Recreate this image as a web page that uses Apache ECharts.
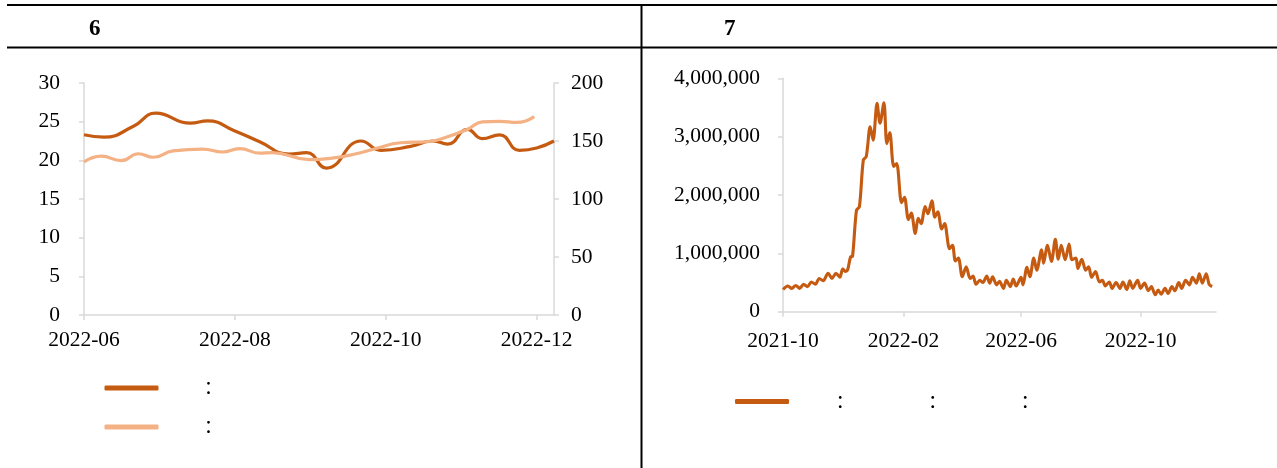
<!DOCTYPE html>
<html><head><meta charset="utf-8">
<script src="https://cdn.jsdelivr.net/npm/echarts@6/dist/echarts.min.js"></script>
<style>html,body{margin:0;padding:0;background:#fff}#c{width:1277px;height:468px}</style>
</head><body><div id="c"></div><script>
// ---------- Chart 6 data ----------
const leftTicks = ['2022-06-01','2022-08-01','2022-10-01','2022-12-01'];
const darkDates = ['2022-06-01','2022-06-09','2022-06-21','2022-06-30','2022-07-14','2022-07-21','2022-08-01','2022-08-11','2022-08-23','2022-08-30','2022-09-07','2022-09-21','2022-09-29','2022-10-11','2022-10-20','2022-10-26','2022-11-03','2022-11-09','2022-11-16','2022-11-24','2022-12-01','2022-12-08'];
const darkValues = [23.3,23.0,24.4,26.1,24.8,25.1,23.8,22.4,20.8,21.0,19.0,22.5,21.3,21.8,22.5,22.1,24.0,22.8,23.3,21.3,21.6,22.5];
const lightDates = ['2022-06-01','2022-06-08','2022-06-16','2022-06-23','2022-06-29','2022-07-07','2022-07-19','2022-07-27','2022-08-03','2022-08-11','2022-08-16','2022-08-31','2022-09-10','2022-09-19','2022-09-27','2022-10-07','2022-10-18','2022-10-23','2022-11-03','2022-11-09','2022-11-16','2022-11-23','2022-11-30'];
const lightValues = [132,137,133,139,136,141.5,143,140.5,143.5,139.5,140,134,135.5,139,143.5,148.5,149.5,151.5,160,166.5,167,166,171];
const leftLegendText = ['\u3000\u3000\uFF1A','\u3000\u3000\uFF1A'];

// ---------- Chart 7 data ----------
const rightTicks = ['2021-10-01','2022-02-01','2022-06-01','2022-10-01'];
const rightDates = [
'2021-10-01','2021-10-06','2021-10-10','2021-10-14','2021-10-18','2021-10-22','2021-10-26','2021-10-30',
'2021-11-03','2021-11-07','2021-11-11','2021-11-16','2021-11-20','2021-11-24','2021-11-28',
'2021-12-01','2021-12-04','2021-12-06','2021-12-09','2021-12-11','2021-12-15','2021-12-18','2021-12-22','2021-12-25','2021-12-29',
'2022-01-01','2022-01-05','2022-01-08','2022-01-12','2022-01-15','2022-01-18','2022-01-22','2022-01-25','2022-01-30',
'2022-02-02','2022-02-06','2022-02-09','2022-02-13','2022-02-16','2022-02-19','2022-02-23','2022-02-26',
'2022-03-02','2022-03-05','2022-03-08','2022-03-12','2022-03-15','2022-03-20','2022-03-23','2022-03-26','2022-03-29',
'2022-04-02','2022-04-06','2022-04-10','2022-04-13','2022-04-16','2022-04-20','2022-04-23','2022-04-27','2022-04-30',
'2022-05-03','2022-05-07','2022-05-10','2022-05-14','2022-05-17','2022-05-21','2022-05-24','2022-05-27',
'2022-06-01','2022-06-03','2022-06-07','2022-06-10','2022-06-14','2022-06-17','2022-06-22','2022-06-24','2022-06-28',
'2022-07-02','2022-07-06','2022-07-09','2022-07-12','2022-07-16','2022-07-20','2022-07-23','2022-07-27','2022-07-29',
'2022-08-02','2022-08-06','2022-08-09','2022-08-12','2022-08-16','2022-08-20','2022-08-23','2022-08-26','2022-08-30',
'2022-09-02','2022-09-06','2022-09-10','2022-09-13','2022-09-17','2022-09-20','2022-09-23','2022-09-28',
'2022-10-01','2022-10-05','2022-10-09','2022-10-12','2022-10-16','2022-10-19','2022-10-22','2022-10-26','2022-10-29',
'2022-11-02','2022-11-05','2022-11-09','2022-11-12','2022-11-16','2022-11-20','2022-11-23','2022-11-27','2022-11-30',
'2022-12-03','2022-12-07','2022-12-10','2022-12-13'];
const rightValues = [
380000,440000,400000,450000,400000,470000,430000,510000,
470000,570000,530000,660000,570000,660000,590000,
730000,690000,720000,940000,950000,1740000,1800000,2600000,2660000,3170000,
2940000,3570000,3230000,3580000,2880000,3070000,2490000,2540000,1870000,
1960000,1580000,1690000,1340000,1600000,1510000,1800000,1680000,
1900000,1620000,1710000,1420000,1510000,1080000,1140000,870000,920000,
600000,770000,570000,610000,470000,540000,500000,610000,490000,
600000,460000,520000,400000,540000,430000,560000,440000,
590000,460000,760000,600000,920000,710000,1060000,830000,1140000,
860000,1240000,900000,1140000,890000,1160000,890000,920000,740000,
900000,710000,770000,590000,690000,510000,540000,440000,510000,
400000,500000,400000,510000,380000,530000,400000,540000,
400000,490000,360000,430000,290000,370000,300000,400000,310000,
430000,360000,500000,400000,540000,460000,590000,490000,650000,
490000,650000,470000,430000];
const rightLegendText = ['\u3000\u3000\uFF1A\u3000\u3000\u3000\u3000\uFF1A\u3000\u3000\u3000\u3000\uFF1A'];

const DARK = '#C55A11', LIGHT = '#F4B183', AXIS = '#D9D9D9';
const FONT = 'Liberation Serif';
const T = s => echarts.number.parseDate(s).getTime();
const pair = (d, v) => d.map((x, i) => [T(x), v[i]]);
const monthFmt = v => echarts.time.format(v, '{yyyy}-{MM}', false);

const chart = echarts.init(document.getElementById('c'), null, {renderer: 'canvas'});

const lbl = (extra) => Object.assign({color: '#000', fontFamily: FONT, fontSize: 21.5}, extra);
const axisLine = {show: true, lineStyle: {color: AXIS, width: 1.5}};
const axisTick = (extra) => Object.assign({show: true, length: 5, lineStyle: {color: AXIS, width: 1.5}}, extra);

chart.setOption({
  animation: false,
  backgroundColor: '#fff',
  grid: [
    {left: 84, top: 83, width: 470, height: 232},
    {left: 783, top: 78.3, width: 433, height: 233.4}
  ],
  xAxis: [
    {type: 'value', gridIndex: 0, min: T('2022-06-01'), max: T('2022-12-08'),
     axisLine, axisTick: axisTick({customValues: leftTicks.map(T)}),
     splitLine: {show: false},
     axisLabel: lbl({customValues: leftTicks.map(T), formatter: monthFmt, margin: 14})},
    {type: 'value', gridIndex: 1, min: T('2021-10-01'), max: T('2022-12-17'),
     axisLine, axisTick: axisTick({customValues: rightTicks.map(T)}),
     splitLine: {show: false},
     axisLabel: lbl({customValues: rightTicks.map(T), formatter: monthFmt, margin: 19})}
  ],
  yAxis: [
    {type: 'value', gridIndex: 0, min: 0, max: 30, interval: 5, position: 'left',
     axisLine, axisTick: axisTick({}), splitLine: {show: false},
     axisLabel: lbl({margin: 24})},
    {type: 'value', gridIndex: 0, min: 0, max: 200, interval: 50, position: 'right',
     axisLine, axisTick: axisTick({}), splitLine: {show: false},
     axisLabel: lbl({margin: 17})},
    {type: 'value', gridIndex: 1, min: 0, max: 4000000, interval: 1000000,
     axisLine, axisTick: axisTick({}), splitLine: {show: false},
     axisLabel: lbl({margin: 23, formatter: v => v.toLocaleString('en-US')})}
  ],
  legend: [
    {data: ['s6a', 's6b'], orient: 'vertical', left: 104.5, top: 378, padding: 0,
     itemWidth: 54, itemHeight: 5, itemGap: 19, icon: 'roundRect',
     formatter: n => leftLegendText[n === 's6a' ? 0 : 1],
     textStyle: {fontFamily: 'Noto Sans CJK JP', fontSize: 18, lineHeight: 20, color: '#000'}},
    {data: ['s7'], orient: 'horizontal', left: 735, top: 391.5, padding: 0,
     itemWidth: 54, itemHeight: 5, icon: 'roundRect',
     formatter: () => rightLegendText[0],
     textStyle: {fontFamily: 'Noto Sans CJK JP', fontSize: 18.5, lineHeight: 20, color: '#000'}}
  ],
  series: [
    {name: 's6a', type: 'line', xAxisIndex: 0, yAxisIndex: 0, data: pair(darkDates, darkValues),
     smooth: 0.5, showSymbol: false, lineStyle: {color: DARK, width: 3.2}, itemStyle: {color: DARK}},
    {name: 's6b', type: 'line', xAxisIndex: 0, yAxisIndex: 1, data: pair(lightDates, lightValues),
     smooth: 0.5, showSymbol: false, lineStyle: {color: LIGHT, width: 3.2}, itemStyle: {color: LIGHT}},
    {name: 's7', type: 'line', xAxisIndex: 1, yAxisIndex: 2, data: pair(rightDates, rightValues),
     smooth: 0.3, showSymbol: false, lineStyle: {color: DARK, width: 3.1}, itemStyle: {color: DARK}}
  ],
  graphic: [
    {type: 'line', shape: {x1: 7, y1: 5, x2: 1277, y2: 5}, style: {stroke: '#000', lineWidth: 2}},
    {type: 'line', shape: {x1: 7, y1: 47.5, x2: 1277, y2: 47.5}, style: {stroke: '#000', lineWidth: 2}},
    {type: 'line', shape: {x1: 641.5, y1: 5, x2: 641.5, y2: 468}, style: {stroke: '#000', lineWidth: 2}},
    {type: 'text', left: 89, top: 18, style: {text: '6', fontFamily: FONT, fontWeight: 'bold', fontSize: 23, fill: '#000'}},
    {type: 'text', left: 724, top: 18, style: {text: '7', fontFamily: FONT, fontWeight: 'bold', fontSize: 23, fill: '#000'}}
  ]
});
</script></body></html>
